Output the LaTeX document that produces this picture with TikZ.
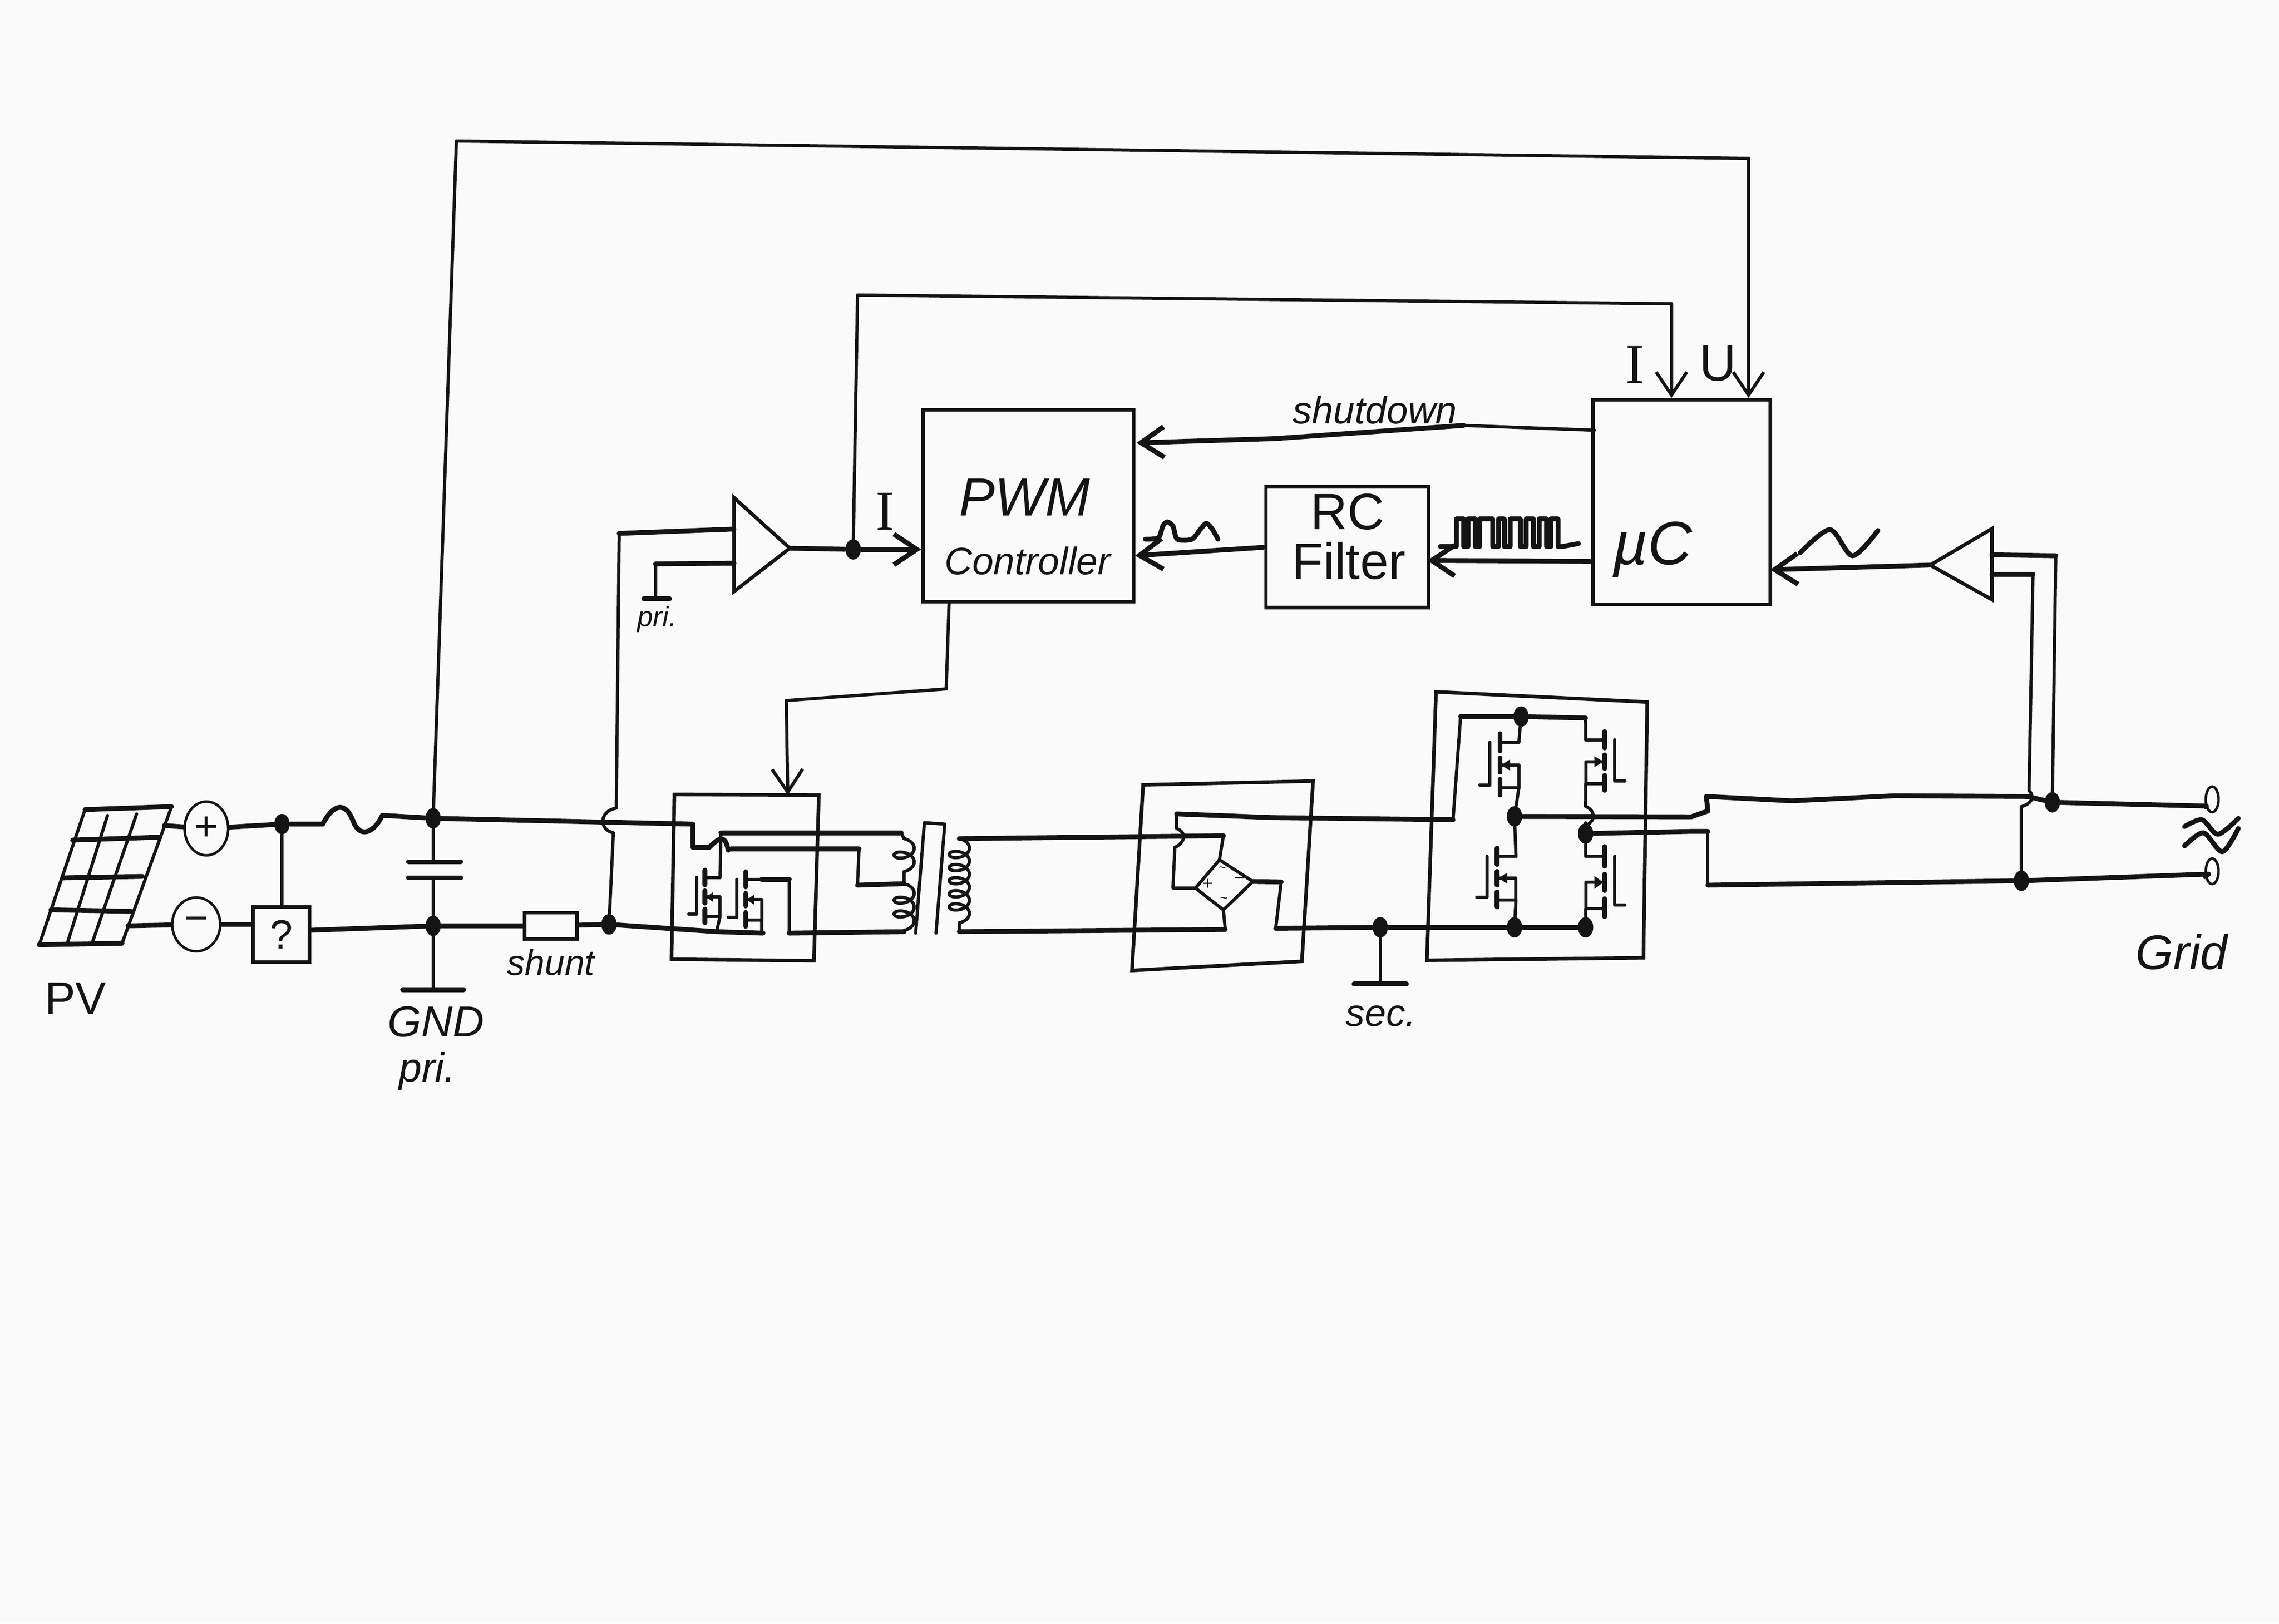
\documentclass[tikz,border=0pt]{standalone}
\usepackage{fontspec}
\setmainfont{Liberation Sans}
\newfontfamily\serifface{Liberation Serif}
\usetikzlibrary{arrows.meta,shapes.geometric,decorations.pathmorphing}
\definecolor{paper}{HTML}{FAFAFA}
\definecolor{ink}{HTML}{141414}
\newcommand{\lblsize}[1]{\fontsize{#1}{#1}\selectfont\itshape}
\newcommand{\uprsize}[1]{\fontsize{#1}{#1}\selectfont}
\tikzset{
    wire/.style={draw=ink,line width=1.9pt,line cap=round,line join=round},
    thinwire/.style={draw=ink,line width=1.25pt,line cap=round,line join=round},
    feed/.style={thinwire,-{Straight Barb[length=9pt,width=12pt]}},
    feedthick/.style={wire,-{Straight Barb[length=9pt,width=12pt]}},
    blockbox/.style={draw=ink,line width=1.4pt,rectangle,inner sep=0pt},
    pole/.style={draw=ink,line width=1pt,ellipse,inner sep=0pt},
    dot/.style={fill=ink,ellipse,inner sep=0pt,minimum width=6pt,minimum height=8pt},
    lbl/.style={text=ink,inner sep=0pt},
    coiled/.style={thinwire,decorate,decoration={coil,aspect=0.6,amplitude=0.14cm,segment length=#1}},
    mosfet/.pic={
        \draw[wire] (0,-6) -- (0,6) (0,11) -- (0,21) (0,26) -- (0,37);
        \draw[thinwire] (-7,0) -- (-7,30) -- (-14,30);
        \draw[thinwire] (0,0) -- (13,0) (0,16) -- (13,16) -- (13,32) -- (0,32);
        \fill[ink] (1,16) -- (7,12) -- (7,20) -- cycle;
        \coordinate (-d) at (13,0);
        \coordinate (-s) at (13,32);
    }
}

\begin{document}
\begin{tikzpicture}[x=0.02cm,y=-0.02cm]
    \fill[paper] (0,0) rectangle (1568,1117.1);
    \useasboundingbox (0,0) rectangle (1568,1117.1);

    \foreach \n/\x/\y in {pvp/113/568,pvm/88/637,fusea/222/567,fuseb/263/561,
        capa/298/592,capb/298/604,gndp/298/681,gndl/277/681,gndr/319/681,
        pria/476.7/567,prib/476.7/583,pric/488/583,prid/501/585,prie/503/584,
        prif/591/584,prig/590/609,tap/622/608,drna/496/573,drnb/620/573,
        cola/622/577,colb/622/641,botl/525/642,botm/493/641,drnc/543/605,drnd/543/642,
        hopa/424/556,hopb/422/573,
        cora/636/566,corb/630/642,corc/650/567,cord/644/642,
        seca/660/577,secb/660/641,
        bra/786.5/540,brb/903.4/537.4,brc/895.7/661.4,brd/778.8/667.7,
        dia/839/591.6,dib/862/606.5,dic/841.7/626,did/822.5/611,
        acta/841.7/575,actb/843/639.5,
        pla/807/611,plb/808.3/583,plc/809.6/570,pld/809.6/560,ple/875/562.5,plf/999.7/564,plg/1004.9/493,
        rla/881.5/606.8,rlb/877.7/638.7,
        inva/988/476,invb/1133.3/483,invc/1130.7/659,invd/981.7/660.7,
        hrail/1090.9/494,hopc/1090.9/554.7,hopd/1090.9/568,
        outa/1163.6/562,outb/1175/558,outc/1174/548,outd/1233/551,oute/1304/547.5,outf/1518/554.6,
        outg/1163.6/572,outh/1175/572,outi/1175/609,outj/1519.5/601.4,
        secg/949.6/677,secl/931.6/677,secr/967.6/677,
        tola/1396/544,tolb/1390.7/555,
        ampa/505/342.4,ampb/505/407,ampc/543.4/377.2,ampd/505/364,ampe/426/367,ampf/505/387.5,ampg/451/388,amph/451/412,
        ampk/443/412,ampl/460.6/412,
        gria/1370.4/363.8,grib/1370.4/412.5,gric/1328/388.8,grid/1370.4/381.7,grie/1414.4/382.4,grif/1370.4/395.2,grig/1398.7/395.2,
        gat/1395/548,
        topa/314/97,topb/1203/109,ifa/590/203,ifb/1150/209,
        sha/1097/296,shb/1007/292.7,shc/877/301.8,shd/782/304.7,
        mca/1094/386.2,mcb/982/385.6,fla/869/376.6,flb/781/382.3,
        gra/1218/392,pwmb/653/414,pwmc/651/474,pwmd/541/482,pwme/542/547}
        \coordinate (\n) at (\x,\y);

    \node[blockbox,minimum width=2.9cm,minimum height=2.64cm] (pwm) at (707.5,348) {};
    \node[blockbox,minimum width=2.24cm,minimum height=1.66cm] (filter) at (927,376.5) {};
    \node[blockbox,minimum width=2.44cm,minimum height=2.82cm] (mc) at (1157,345.5) {};
    \node[blockbox,minimum width=0.72cm,minimum height=0.36cm] (shunt) at (379,637) {};
    \node[blockbox,minimum width=0.78cm,minimum height=0.76cm] (quest) at (193.5,643) {};
    \node[pole,minimum width=0.6cm,minimum height=0.74cm] (plus) at (142,570) {};
    \node[pole,minimum width=0.66cm,minimum height=0.74cm] (minus) at (135,636) {};

    \draw[blockbox] (464,546.6) -- (563.4,547) -- (560,661) -- (462,660) -- cycle;
    \draw[blockbox] (bra) -- (brb) -- (brc) -- (brd) -- cycle;
    \draw[blockbox] (inva) -- (invb) -- (invc) -- (invd) -- cycle;
    \draw[thinwire] (dia) -- (dib) -- (dic) -- (did) -- cycle;
    \draw[blockbox] (ampa) -- (ampc) -- (ampb) -- cycle;
    \draw[blockbox] (gria) -- (gric) -- (grib) -- cycle;

    \node[dot] (ndot) at (194,567) {};
    \node[dot] (capt) at (298,563) {};
    \node[dot] (capn) at (298,637) {};
    \node[dot] (shdot) at (419,636) {};
    \node[dot] (idot) at (587,378) {};
    \node[dot] (secdot) at (949.6,638) {};
    \node[dot] (hcen) at (1042,561.7) {};
    \node[dot] (hbot) at (1042,638) {};
    \node[dot] (htop) at (1046.5,493) {};
    \node[dot] (hout) at (1090.9,573.5) {};
    \node[dot] (hret) at (1090.9,638) {};
    \node[dot] (sensa) at (1412,552) {};
    \node[dot] (sensb) at (1390.7,606) {};
    \node[pole,fill=paper,minimum width=5pt,minimum height=10pt] (gridt) at (1522,550) {};
    \node[pole,fill=paper,minimum width=5pt,minimum height=10pt] (gridb) at (1522,599.5) {};

    \draw[thinwire] (58.5,557) -- (27,650) (118,555) -- (84,649);
    \draw[thinwire] (74,561) -- (46,650) (94,560) -- (63,650);
    \draw[wire] (58.5,557) -- (118,555) (50,578) -- (110,576) (43,604) -- (98,603);
    \draw[wire] (35,626) -- (90,627) (27,650) -- (84,649);

    \draw[wire] (pvp) -- (plus) (plus) -- (ndot) -- (fusea);
    \draw[wire] (fusea) .. controls (230,552) and (238,552) .. (243,565) .. controls (248,578) and (258,572) .. (fuseb);
    \draw[wire] (fuseb) -- (capt) -- (pria) -- (prib) -- (pric);
    \draw[wire] (pric) .. controls (495,576) and (499,574) .. (prid);
    \draw[wire] (prie) -- (prif);
    \draw[thinwire] (prif) -- (prig);
    \draw[wire] (prig) -- (tap);
    \draw[wire] (pvm) -- (minus) (minus) -- (quest.west |- minus) (quest.east |- 0,640) -- (capn);
    \draw[wire] (capn) -- (shunt) (shunt) -- (shdot) -- (botm) -- (botl);
    \draw[thinwire] (ndot) -- (quest.north -| ndot);
    \draw[thinwire] (capt) -- (capa) (capb) -- (capn) -- (gndp);
    \draw[wire] (281,593) -- (317,593) (281,604) -- (317,604) (gndl) -- (gndr);
    \draw[thinwire] (capt) -- (topa) -- (topb);
    \draw[feed] (topb) -- (topb |- mc.north);

    \pic[xscale=0.8,yscale=0.84] (qa) at (485,603.7) {mosfet};
    \pic[xscale=0.85,yscale=0.875] (qb) at (513,605) {mosfet};
    \draw[thinwire] (qa-d) -- (drna);
    \draw[wire] (drna) -- (drnb);
    \draw[thinwire] (qa-s) -- (botm) (qb-s) -- (qb-s |- botl);
    \draw[wire] (qb-d) -- (drnc);
    \draw[thinwire] (drnc) -- (drnd);
    \draw[wire] (drnd) -- (colb);
    \draw[thinwire] (drnb) -- (cola);
    \draw[coiled=0.19cm] (cola) -- (tap);
    \draw[coiled=0.19cm] (tap) -- (colb);
    \draw[thinwire] (cora) -- (corb) (corc) -- (cord) (cora) -- (corc);
    \draw[coiled=0.18cm] (seca) -- (secb);

    \draw[wire] (seca) -- (acta);
    \draw[thinwire] (acta) -- (dia);
    \draw[wire] (secb) -- (actb);
    \draw[thinwire] (actb) -- (dic);
    \draw[thinwire] (did) -- (pla) -- (plb);
    \draw[thinwire] (plb) .. controls (815,580) and (817,573) .. (plc);
    \draw[thinwire] (plc) -- (pld);
    \draw[wire] (pld) -- (ple) -- (plf);
    \draw[thinwire] (plf) -- (plg);
    \draw[wire] (plg) -- (htop) -- (hrail);
    \draw[wire] (dib) -- (rla);
    \draw[thinwire] (rla) -- (rlb);
    \draw[wire] (rlb) -- (secdot) -- (hbot) -- (hret);
    \draw[thinwire] (secdot) -- (secg);
    \draw[wire] (secl) -- (secr);

    \pic[yscale=0.98] (qc) at (1032,510.7) {mosfet};
    \pic[yscale=0.94] (qd) at (1030,589.2) {mosfet};
    \pic[xscale=-1,yscale=0.94] (qe) at (1104,509) {mosfet};
    \pic[xscale=-1,yscale=1.12] (qf) at (1104,589.2) {mosfet};
    \draw[thinwire] (htop) -- (qc-d) (qc-s) -- (hcen) -- (qd-d) (qd-s) -- (hbot);
    \draw[thinwire] (hrail) -- (qe-d) (qe-s) -- (hopc);
    \draw[thinwire] (hopc) .. controls (1098,558) and (1098,565) .. (hopd);
    \draw[thinwire] (hopd) -- (hout) -- (qf-d) (qf-s) -- (hret);
    \draw[wire] (hcen) -- (outa) -- (outb);
    \draw[wire] (outb) -- (outc) -- (outd) -- (oute) -- (gat) -- (sensa) -- (outf) -- (gridt);
    \draw[wire] (hout) -- (outg) -- (outh);
    \draw[thinwire] (outh) -- (outi);
    \draw[wire] (outi) -- (sensb) -- (outj) -- (gridb);

    \draw[thinwire] (grig) -- (tola);
    \draw[thinwire] (tola) .. controls (1400,548) and (1398,553) .. (tolb);
    \draw[thinwire] (tolb) -- (sensb);
    \draw[thinwire] (grie) -- (sensa);
    \draw[wire] (grid) -- (grie) (grif) -- (grig);
    \draw[feedthick] (gric) -- (gra);

    \draw[wire] (ampd) -- (ampe);
    \draw[thinwire] (ampe) -- (hopa);
    \draw[thinwire] (hopa) .. controls (412,558) and (412,571) .. (hopb);
    \draw[thinwire] (hopb) -- (shdot);
    \draw[wire] (ampf) -- (ampg);
    \draw[thinwire] (ampg) -- (amph);
    \draw[wire] (ampk) -- (ampl);
    \draw[wire] (ampc) -- (idot);
    \draw[feedthick] (idot) -- (idot -| pwm.west);
    \draw[thinwire] (idot) -- (ifa) -- (ifb);
    \draw[feed] (ifb) -- (ifb |- mc.north);

    \draw[thinwire] (sha) -- (shb);
    \draw[feedthick] (shb) -- (shc) -- (shd);
    \draw[feedthick] (mca) -- (mcb);
    \draw[feedthick] (fla) -- (flb);
    \draw[thinwire] (pwmb) -- (pwmc) -- (pwmd);
    \draw[feed] (pwmd) -- (pwme);

    \draw[wire] (991,376) -- ++(11,0)
        \foreach \w/\g in {5/3,5/3,9/4,4/4,7/4,5/4,5/3,5/3} {-- ++(0,-19) -- ++(\w,0) -- ++(0,19) -- ++(\g,0)}
        -- (1086,374);
    \draw[wire] plot[smooth,tension=0.45] coordinates {(788,371) (797,370) (800,362) (803,359) (807,362) (810,371) (820,371) (826,364) (830,360) (834,364) (838,371)};
    \draw[wire] plot[smooth] coordinates {(1238.5,380.4) (1259,364.4) (1274.6,382.4) (1292,365)};
    \draw[wire] plot[smooth] coordinates {(1503,568.7) (1515,564) (1526,574) (1540,563)};
    \draw[wire] plot[smooth] coordinates {(1503,582) (1516,573) (1529,586) (1540,570)};

    \node[lbl,font=\uprsize{18}] (pvlbl) at (52,687) {PV};
    \node[lbl,font=\lblsize{17}] (gndlbl) at (300,703) {GND};
    \node[lbl,font=\lblsize{16}] (prilbl) at (294,737) {pri.};
    \node[lbl,font=\lblsize{14}] (shuntlbl) at (379,662) {shunt};
    \node[lbl,font=\lblsize{11}] (prismall) at (452,426) {pri.};
    \node[lbl,font=\lblsize{15}] (seclbl) at (950,699) {sec.};
    \node[lbl,font=\lblsize{19}] (gridlbl) at (1501,655) {Grid};
    \node[lbl,font=\lblsize{15}] (shutlbl) at (946,282) {shutdown};
    \node[lbl,font=\lblsize{21}] (pwmlbl) at (705,342) {PWM};
    \node[lbl,font=\lblsize{15}] (ctrllbl) at (707,386) {Controller};
    \node[lbl,font=\uprsize{20}] (rclbl) at (927,352) {RC};
    \node[lbl,font=\uprsize{20}] (fltlbl) at (928,386) {Filter};
    \node[lbl,font=\lblsize{24}] (mclbl) at (1137,378) {µC};
    \node[lbl,font=\serifface\fontsize{22}{22}\selectfont] (ilbl) at (609,352) {I};
    \node[lbl,font=\serifface\fontsize{22}{22}\selectfont] (imc) at (1124.8,251) {I};
    \node[lbl,font=\uprsize{20}] (umc) at (1182,250) {U};
    \node[lbl,font=\uprsize{16}] at (plus) {+};
    \node[lbl,font=\uprsize{16}] at (minus) {−};
    \node[lbl,font=\uprsize{16}] at (quest) {?};
    \node[lbl,font=\uprsize{7}] (brp) at (831,608.5) {+};
    \node[lbl,font=\uprsize{7}] (brm) at (853,606) {−};
    \node[lbl,font=\uprsize{5}] (bra1) at (841,598) {\textasciitilde};
    \node[lbl,font=\uprsize{5}] (bra2) at (842,619) {\textasciitilde};
\end{tikzpicture}
\end{document}
